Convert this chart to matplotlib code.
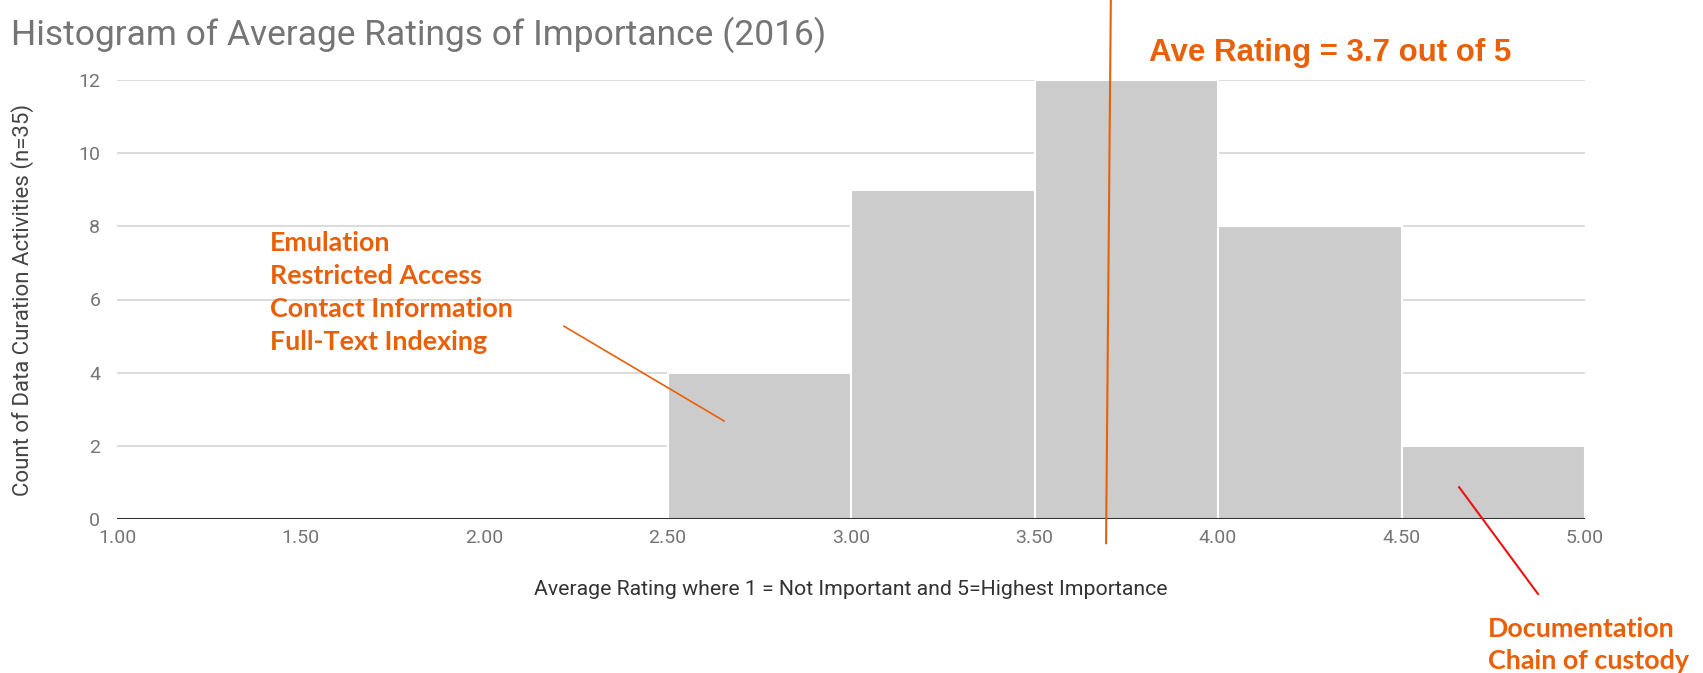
import numpy as np
import matplotlib.pyplot as plt

# -----------------------------
# Data
# -----------------------------
bin_edges = [2.5, 3.0, 3.5, 4.0, 4.5, 5.0]
counts = [4, 9, 12, 8, 2]
ave_rating = 3.7
x_ticks = [1.0, 1.5, 2.0, 2.5, 3.0, 3.5, 4.0, 4.5, 5.0]
y_ticks = [0, 2, 4, 6, 8, 10, 12]
low_items = ['Emulation', 'Restricted Access', 'Contact Information', 'Full-Text Indexing']
high_items = ['Documentation', 'Chain of custody']

orange = '#E8600A'
W, H = 1703, 673

fig = plt.figure(figsize=(W / 100, H / 100), dpi=100)
ax = fig.add_axes([117 / W, (H - 519) / H, (1585 - 117) / W, (519 - 80) / H])

# bars
ax.bar(bin_edges[:-1], counts, width=np.diff(bin_edges), align='edge',
       color='#cccccc', edgecolor='white', linewidth=1.5, zorder=2)

ax.set_xlim(1, 5)
ax.set_ylim(0, 12)
ax.set_xticks(x_ticks)
ax.set_xticklabels([f'{t:.2f}' for t in x_ticks])
ax.set_yticks(y_ticks)
ax.grid(axis='y', color='#d6d6d6', linewidth=1.2, zorder=0)
ax.axhline(0, color='#333333', linewidth=1.5, zorder=3)
for s in ax.spines.values():
    s.set_visible(False)
ax.tick_params(length=0, labelsize=14, labelcolor='#757575')
ax.tick_params(axis='y', pad=12)
ax.tick_params(axis='x', pad=7)
for lab in ax.get_xticklabels() + ax.get_yticklabels():
    lab.set_fontfamily('Roboto')

ax.set_xlabel('Average Rating where 1 = Not Important and 5=Highest Importance',
              fontsize=15.3, color='#333333', fontfamily='Roboto', labelpad=24)
ax.set_ylabel('Count of Data Curation Activities (n=35)',
              fontsize=16, color='#444444', fontfamily='Roboto')
ax.yaxis.set_label_coords(-0.0565, 0.5)

fig.text(11 / W, 1 - 35 / H, 'Histogram of Average Ratings of Importance (2016)',
         fontsize=25.5, color='#757575', fontfamily='Roboto', va='center')

# average line
ax.plot([ave_rating - 0.005, ave_rating + 0.008], [-0.66, 14.2], color=orange,
        linewidth=1.5, clip_on=False, zorder=4)
ax.text(3.812, 12.75, f'Ave Rating = {ave_rating} out of 5', fontsize=22.5,
        fontweight='bold', color=orange, fontfamily='Liberation Sans',
        va='center', ha='left', clip_on=False)

# annotations
ax.text(1.417, 6.2, '\n'.join(low_items), fontsize=19.4, fontweight='bold',
        color=orange, fontfamily='Lato', va='center', ha='left', linespacing=1.45)
ax.plot([2.218, 2.654], [5.27, 2.68], color=orange, linewidth=1.2, zorder=4)

ax.plot([4.657, 4.872], [0.87, -2.05], color='#ee1111', linewidth=1.5,
        clip_on=False, zorder=4)
ax.text(4.736, -3.45, '\n'.join(high_items), fontsize=19.4, fontweight='bold',
        color=orange, fontfamily='Lato', va='center', ha='left', linespacing=1.4,
        clip_on=False)

fig.savefig('out.png', dpi=100)
